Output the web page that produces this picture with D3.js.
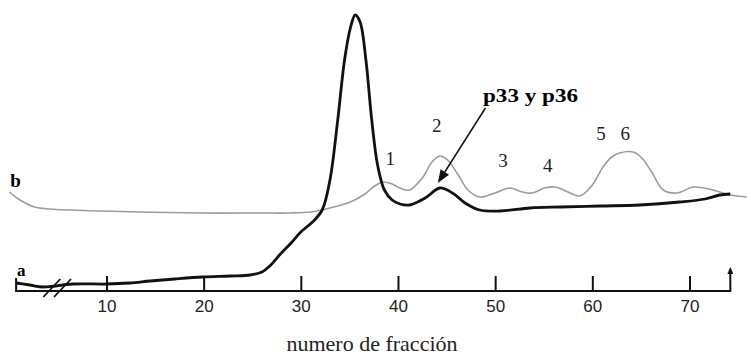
<!DOCTYPE html>
<html>
<head>
<meta charset="utf-8">
<script src="https://cdn.jsdelivr.net/npm/d3@7"></script>
<style>
  body { margin: 0; background: #fff; }
  svg { display: block; }
</style>
</head>
<body>
<svg id="chart" width="747" height="358"></svg>
<script>
// Fraction numbers (curve a, black)
const fractionsA = [0.7, 2.1, 3.5, 6.5, 10.0, 12.4, 14.5, 17.0, 19.9, 22.7, 24.8, 26.0, 26.8, 27.9, 29.0, 30.0,
  31.2, 32.2, 33.0, 33.8, 34.5, 35.1, 35.6, 36.1, 36.7, 37.3, 37.9, 38.6, 39.4, 40.2, 41.2, 42.8, 44.3,
  45.6, 46.9, 48.4, 50.5, 53.6, 56.7, 60.8, 64.9, 69.0, 71.6, 73.1, 74.2];
const valuesA = [0.09, 0.07, 0.05, 0.08, 0.08, 0.09, 0.11, 0.13, 0.15, 0.16, 0.17, 0.20, 0.26, 0.38, 0.49, 0.60,
  0.70, 0.82, 1.12, 1.72, 2.32, 2.64, 2.77, 2.70, 2.32, 1.72, 1.27, 1.02, 0.92, 0.88, 0.87, 0.94, 1.04,
  0.99, 0.89, 0.82, 0.81, 0.84, 0.85, 0.86, 0.87, 0.90, 0.93, 0.97, 0.98];

// curve b, grey
const fractionsB = [0, 1.1, 2.6, 4.2, 9.3, 19.6, 25.8, 28.9, 31.0, 33.0, 35.1, 36.6, 37.6, 38.5, 39.4, 40.2,
  41.2, 42.5, 43.5, 44.3, 45.1, 46.2, 47.2, 48.4, 50.0, 51.5, 52.8, 53.8, 55.1, 56.2, 57.5, 58.7, 60.0,
  61.1, 62.0, 62.8, 64.2, 65.1, 66.1, 67.3, 68.7, 70.4, 72.4, 74.2, 75.9];
const valuesB = [1.00, 0.92, 0.85, 0.83, 0.81, 0.79, 0.79, 0.79, 0.80, 0.84, 0.90, 0.98, 1.06, 1.10, 1.08, 1.04,
  1.02, 1.14, 1.30, 1.36, 1.32, 1.17, 1.02, 0.95, 0.99, 1.04, 1.00, 0.99, 1.04, 1.05, 1.00, 0.96, 1.07,
  1.25, 1.35, 1.39, 1.40, 1.34, 1.20, 1.02, 0.99, 1.05, 1.02, 0.97, 0.95];

const tickValues = [10, 20, 30, 40, 50, 60, 70];
const peakNames = ['1', '2', '3', '4', '5', '6'];
const peakFractions = [39.2, 44.0, 50.8, 55.4, 60.9, 63.4];
const peakLabelValues = [1.27, 1.60, 1.25, 1.20, 1.52, 1.52];

const svg = d3.select('#chart');

const x = d3.scaleLinear().domain([0, 76]).range([9.3, 747.8]);
const y = d3.scaleLinear().domain([0, 2.8]).range([292, 12]);
const axisY = 291;

const line = d3.line()
  .x(d => x(d[0]))
  .y(d => y(d[1]))
  .curve(d3.curveCatmullRom.alpha(0.5));

// grey curve b
svg.append('path')
  .datum(d3.zip(fractionsB, valuesB))
  .attr('d', line)
  .attr('fill', 'none')
  .attr('stroke', '#9c9c9c')
  .attr('stroke-width', 1.6);

// black curve a
svg.append('path')
  .datum(d3.zip(fractionsA, valuesA))
  .attr('d', line)
  .attr('fill', 'none')
  .attr('stroke', '#111')
  .attr('stroke-width', 2.8)
  .attr('stroke-linejoin', 'round');

// x axis, ticks pointing up
const axis = svg.append('g')
  .attr('transform', `translate(0,${axisY})`)
  .call(d3.axisBottom(x).tickValues(tickValues).tickSizeInner(-15).tickSizeOuter(0).tickPadding(9)
    .tickFormat(d3.format('d')));
axis.select('.domain').remove();
axis.selectAll('.tick line').attr('stroke', '#111').attr('stroke-width', 2);
axis.selectAll('.tick text')
  .attr('font-family', 'Liberation Sans, Arial, sans-serif')
  .attr('font-size', 17)
  .attr('fill', '#222');

const x0 = x(0.7), x1 = x(74.2);
svg.append('path')
  .attr('d', `M${x0},${axisY - 13}V${axisY}H${x1}V${axisY - 20}`)
  .attr('fill', 'none')
  .attr('stroke', '#111')
  .attr('stroke-width', 2);
// arrow tip at right end
svg.append('path')
  .attr('d', `M${x1 - 3},${axisY - 17}L${x1},${axisY - 24}L${x1 + 3},${axisY - 17}Z`)
  .attr('fill', '#111');

// axis break //
[3.5, 4.6].forEach(f => {
  svg.append('line')
    .attr('x1', x(f)).attr('y1', axisY + 6)
    .attr('x2', x(f) + 17).attr('y2', axisY - 12)
    .attr('stroke', '#111').attr('stroke-width', 1.8);
});

// curve names
svg.append('text')
  .attr('x', x(0.1)).attr('y', y(1.05))
  .attr('font-family', 'Liberation Serif, Times New Roman, serif')
  .attr('font-weight', 'bold').attr('font-size', 19)
  .text('b');
svg.append('text')
  .attr('x', x(0.8)).attr('y', y(0.16))
  .attr('font-family', 'Liberation Serif, Times New Roman, serif')
  .attr('font-weight', 'bold').attr('font-size', 17)
  .text('a');

// peak numbers
svg.selectAll('.peak')
  .data(peakNames)
  .join('text')
  .attr('class', 'peak')
  .attr('x', (d, i) => x(peakFractions[i]))
  .attr('y', (d, i) => y(peakLabelValues[i]))
  .attr('text-anchor', 'middle')
  .attr('font-family', 'Liberation Serif, Times New Roman, serif')
  .attr('font-size', 19)
  .attr('fill', '#222')
  .text(d => d);

// annotation with arrow
svg.append('text')
  .attr('x', x(48.75)).attr('y', y(1.90))
  .attr('font-family', 'Liberation Serif, Times New Roman, serif')
  .attr('font-weight', 'bold').attr('font-size', 19)
  .attr('textLength', 95).attr('lengthAdjust', 'spacingAndGlyphs')
  .text('p33 y p36');

const ax1 = x(49.0), ay1 = y(1.84), ax2 = x(44.1), ay2 = y(1.09);
const ang = Math.atan2(ay2 - ay1, ax2 - ax1);
const hl = 13, hw = 5;
const bx = ax2 - Math.cos(ang) * hl, by = ay2 - Math.sin(ang) * hl;
svg.append('line')
  .attr('x1', ax1).attr('y1', ay1)
  .attr('x2', bx).attr('y2', by)
  .attr('stroke', '#111').attr('stroke-width', 1.5);
svg.append('path')
  .attr('d', `M${ax2},${ay2}L${bx - Math.sin(ang) * hw},${by + Math.cos(ang) * hw}L${bx + Math.sin(ang) * hw},${by - Math.cos(ang) * hw}Z`)
  .attr('fill', '#111');

// axis title
svg.append('text')
  .attr('x', 372).attr('y', 351)
  .attr('text-anchor', 'middle')
  .attr('font-family', 'Liberation Serif, Times New Roman, serif')
  .attr('font-size', 22)
  .attr('fill', '#222')
  .text('numero de fracción');
</script>
</body>
</html>
